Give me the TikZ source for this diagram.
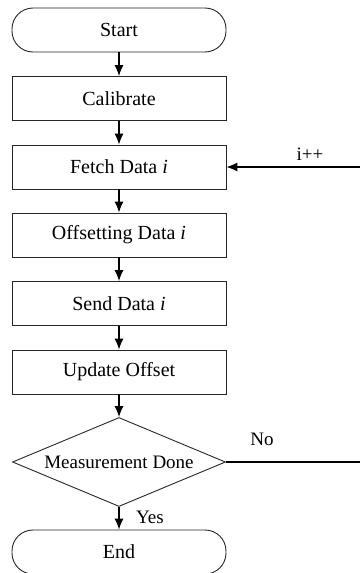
\documentclass[tikz,border=0pt]{standalone}
\usepackage{fontspec}
\setmainfont{Liberation Serif}
\usetikzlibrary{arrows.meta,shapes.geometric}
\begin{document}
\begin{tikzpicture}[x=1pt,y=-1pt,
  base/.style={draw=black!85,line width=0.9pt,minimum width=214pt,minimum height=44pt,
    inner sep=0pt,font=\fontsize{20}{22}\selectfont},
  stepbox/.style={base,rectangle},
  term/.style={base,rectangle,rounded corners=21pt},
  decide/.style={draw=black!85,line width=0.9pt,diamond,aspect=2.4,minimum width=213pt,
    minimum height=89pt,inner sep=0pt,font=\fontsize{19}{21}\selectfont},
  flow/.style={line width=1.1pt,-{Latex[length=11pt,width=9pt]}},
  lbl/.style={font=\fontsize{19}{21}\selectfont,inner sep=0pt}]
\useasboundingbox (0,0) rectangle (359,573);
\node[term] (start) at (119,30) {Start};
\node[stepbox] (cal) at (119,98.5) {Calibrate};
\node[stepbox] (fetch) at (119,167) {Fetch Data \textit{i}};
\node[stepbox] (offs) at (119,235) {Offsetting Data \textit{i}};
\node[stepbox] (send) at (119,303.5) {Send Data \textit{i}};
\node[stepbox] (upd) at (119,372) {Update Offset};
\node[decide] (done) at (119,462) {Measurement Done};
\node[term] (end) at (119,552) {End};
\coordinate (loopin) at (360,167);
\coordinate (loopout) at (360,462);
\draw[flow] (start) -- (cal);
\draw[flow] (cal) -- (fetch);
\draw[flow] (fetch) -- (offs);
\draw[flow] (offs) -- (send);
\draw[flow] (send) -- (upd);
\draw[flow] (upd) -- (done);
\draw[flow] (done) -- (end);
\draw[flow] (loopin) -- (fetch);
\draw[line width=1.1pt] (done.east) -- (loopout);
\node[lbl] (inc) at (310,154) {i++};
\node[lbl] (no) at (262,439) {No};
\node[lbl] (yes) at (150,517) {Yes};
\end{tikzpicture}
\end{document}
